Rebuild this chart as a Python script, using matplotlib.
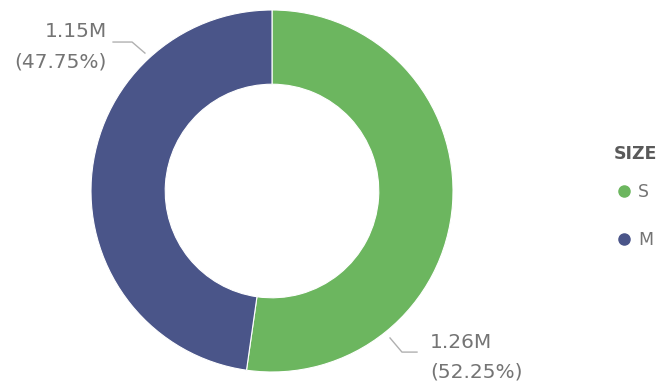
import numpy as np
import matplotlib.pyplot as plt
from matplotlib.lines import Line2D

plt.rcParams['font.family'] = ['Lato', 'DejaVu Sans']

# donut data
sizes = ['S', 'M']
values = [1.26, 1.15]          # millions
shares = [52.25, 47.75]        # percent
colors = ['#6CB65F', '#4A5589']

fig = plt.figure(figsize=(6.67, 3.82), dpi=100)
W, H = 667, 382
cx, cy, r = 272, 191, 181
ax = fig.add_axes([(cx - r) / W, (H - cy - r) / H, 2 * r / W, 2 * r / H])

ax.pie(shares, colors=colors, startangle=90, counterclock=False, radius=1,
       wedgeprops=dict(width=0.41, edgecolor='white', linewidth=0.8))
ax.set_xlim(-1, 1)
ax.set_ylim(-1, 1)
ax.set_aspect('equal')
ax.axis('off')

txt = '#747474'
line_c = '#B0B0B0'
lbl = dict(fontsize=14.5, color=txt, family='DejaVu Sans', va='baseline', clip_on=False)

# M label, upper left
ax.plot([-0.878, -0.773, -0.702], [0.823, 0.823, 0.762], color=line_c, lw=1, clip_on=False)
ax.text(-0.912, 0.851, f'{values[1]:.2f}M', ha='right', **lbl)
ax.text(-0.912, 0.685, f'({shares[1]:.2f}%)', ha='right', **lbl)

# S label, lower right
ax.plot([0.652, 0.718, 0.801], [-0.812, -0.890, -0.890], color=line_c, lw=1, clip_on=False)
ax.text(0.873, -0.867, f'{values[0]:.2f}M', ha='left', **lbl)
ax.text(0.873, -1.033, f'({shares[0]:.2f}%)', ha='left', **lbl)

# legend
handles = [Line2D([], [], marker='o', ls='', color=c, markersize=8) for c in colors]
leg = fig.legend(handles, sizes, title='SIZE', loc='upper left',
                 bbox_to_anchor=(598 / W, 1 - 129 / H), frameon=False,
                 handletextpad=0.2, labelspacing=1.7,
                 prop=dict(family='DejaVu Sans', size=12.5),
                 title_fontproperties=dict(family='DejaVu Sans', size=12.5, weight='bold'),
                 handlelength=1.2)
leg._legend_box.align = 'left'
leg._legend_box.sep = 15
leg.get_title().set_color('#5A5A5A')
for t in leg.get_texts():
    t.set_color(txt)

fig.savefig('out.png', dpi=100)
